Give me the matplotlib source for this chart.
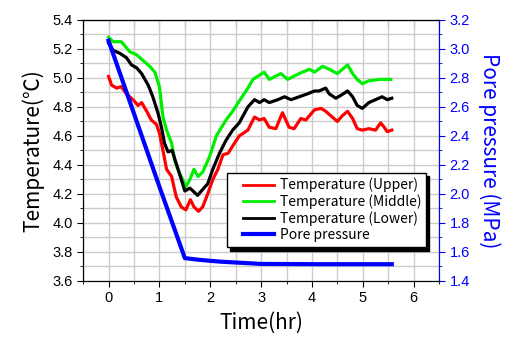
import matplotlib.pyplot as plt
from matplotlib.ticker import MultipleLocator

# data
t_upper = [0, 0.06, 0.16, 0.25, 0.35, 0.48, 0.58, 0.65, 0.75, 0.84, 0.94, 1.0, 1.07, 1.14, 1.24, 1.33,
           1.43, 1.52, 1.61, 1.68, 1.77, 1.85, 1.95, 2.05, 2.15, 2.25, 2.35, 2.44, 2.57, 2.74, 2.87,
           2.97, 3.06, 3.16, 3.29, 3.42, 3.55, 3.65, 3.78, 3.88, 4.05, 4.18, 4.27, 4.4, 4.5, 4.6,
           4.7, 4.8, 4.89, 4.99, 5.12, 5.25, 5.35, 5.42, 5.48, 5.57]
temp_upper = [5.01, 4.95, 4.93, 4.94, 4.89, 4.85, 4.81, 4.83, 4.77, 4.71, 4.68, 4.62, 4.50, 4.37, 4.32, 4.18,
              4.11, 4.09, 4.16, 4.11, 4.08, 4.11, 4.20, 4.30, 4.37, 4.47, 4.48, 4.53, 4.60, 4.64, 4.73,
              4.71, 4.72, 4.66, 4.65, 4.76, 4.66, 4.65, 4.72, 4.71, 4.78, 4.79, 4.77, 4.73, 4.70, 4.74,
              4.77, 4.72, 4.65, 4.64, 4.65, 4.64, 4.69, 4.66, 4.63, 4.64]

t_middle = [0, 0.09, 0.25, 0.42, 0.55, 0.71, 0.81, 0.91, 1.0, 1.07, 1.14, 1.24, 1.3, 1.4, 1.52, 1.6,
            1.68, 1.76, 1.85, 1.99, 2.12, 2.31, 2.44, 2.57, 2.74, 2.84, 2.93, 3.06, 3.16, 3.39, 3.52,
            3.75, 3.95, 4.05, 4.21, 4.34, 4.5, 4.7, 4.8, 4.89, 4.99, 5.12, 5.32, 5.55]
temp_middle = [5.28, 5.25, 5.25, 5.18, 5.16, 5.11, 5.08, 5.04, 4.94, 4.73, 4.64, 4.55, 4.43, 4.34, 4.25, 4.30,
               4.37, 4.32, 4.35, 4.46, 4.60, 4.71, 4.77, 4.84, 4.93, 4.99, 5.01, 5.04, 4.99, 5.03, 4.99,
               5.03, 5.06, 5.04, 5.08, 5.06, 5.03, 5.09, 5.03, 4.99, 4.96, 4.98, 4.99, 4.99]

t_lower = [0, 0.09, 0.22, 0.35, 0.45, 0.55, 0.65, 0.78, 0.87, 0.97, 1.04, 1.1, 1.17, 1.25, 1.33, 1.43,
           1.5, 1.6, 1.66, 1.75, 1.85, 1.95, 2.05, 2.18, 2.31, 2.44, 2.57, 2.74, 2.87, 2.97, 3.06,
           3.16, 3.33, 3.46, 3.59, 3.75, 3.91, 4.05, 4.14, 4.27, 4.34, 4.47, 4.57, 4.7, 4.8, 4.89,
           4.99, 5.12, 5.25, 5.38, 5.48, 5.57]
temp_lower = [5.24, 5.19, 5.17, 5.14, 5.09, 5.07, 5.03, 4.95, 4.87, 4.76, 4.66, 4.55, 4.49, 4.50, 4.41, 4.30,
              4.22, 4.24, 4.22, 4.19, 4.23, 4.27, 4.37, 4.48, 4.57, 4.64, 4.69, 4.80, 4.85, 4.83, 4.85,
              4.83, 4.85, 4.87, 4.85, 4.87, 4.89, 4.91, 4.91, 4.93, 4.89, 4.86, 4.88, 4.91, 4.87, 4.81,
              4.79, 4.83, 4.85, 4.87, 4.85, 4.86]

t_pore = [0, 1.0, 1.5, 1.79, 2.18, 3.0, 4.14, 5.57]
pore_pressure = [3.057, 2.05, 1.557, 1.545, 1.533, 1.517, 1.515, 1.515]

label_font = ['Noto Sans CJK JP', 'DejaVu Sans']
plt.rcParams['font.family'] = ['Liberation Sans', 'DejaVu Sans']

fig = plt.figure(figsize=(5.07, 3.38), dpi=100)
ax = fig.add_axes([0.164, 0.169, 0.702, 0.772])
ax2 = ax.twinx()

l1, = ax.plot(t_upper, temp_upper, color='red', lw=2.3, label='Temperature (Upper)')
l2, = ax.plot(t_middle, temp_middle, color='#00ee00', lw=2.3, label='Temperature (Middle)')
l3, = ax.plot(t_lower, temp_lower, color='black', lw=2.3, label='Temperature (Lower)')
l4, = ax2.plot(t_pore, pore_pressure, color='blue', lw=3, label='Pore pressure')

ax.set_xlim(-0.5, 6.5)
ax.set_ylim(3.6, 5.4)
ax2.set_ylim(1.4, 3.2)

ax.xaxis.set_major_locator(MultipleLocator(1))
ax.xaxis.set_minor_locator(MultipleLocator(0.5))
ax.yaxis.set_major_locator(MultipleLocator(0.2))
ax.yaxis.set_minor_locator(MultipleLocator(0.1))
ax2.yaxis.set_major_locator(MultipleLocator(0.2))
ax2.yaxis.set_minor_locator(MultipleLocator(0.1))
ax.yaxis.set_major_formatter(plt.FormatStrFormatter('%.1f'))
ax2.yaxis.set_major_formatter(plt.FormatStrFormatter('%.1f'))

ax.grid(True, which='both', color='#cccccc', lw=1)
ax.set_axisbelow(True)

ax.tick_params(axis='both', which='both', direction='out', labelsize=10.5, top=False)
ax.tick_params(which='major', length=4)
ax.tick_params(which='minor', length=2.5)
sec = ax.secondary_xaxis('top')
sec.xaxis.set_major_locator(MultipleLocator(0.5))
sec.tick_params(direction='in', length=4, labeltop=False)

ax2.spines['right'].set_color('blue')
ax2.tick_params(axis='y', which='both', colors='blue', labelsize=10.5)
ax2.tick_params(which='major', length=4)
ax2.tick_params(which='minor', length=2.5)

ax.set_xlabel('Time(hr)', fontsize=15, family=label_font, labelpad=5)
ax.set_ylabel('Temperature(℃)', fontsize=15, family=label_font, labelpad=6)
ax2.set_ylabel('Pore pressure (MPa)', fontsize=15, family=label_font, color='blue',
               rotation=270, labelpad=22)

leg = ax2.legend(handles=[l1, l2, l3, l4], loc='upper left',
                 bbox_to_anchor=(0.404, 0.13, 0.559, 0.284), mode='expand', alignment='right',
                 borderaxespad=0, fancybox=False, edgecolor='black', framealpha=1,
                 shadow={'color': 'black', 'alpha': 1, 'ox': 2.5, 'oy': -2.5},
                 prop={'family': label_font, 'size': 10}, handlelength=2.2,
                 handletextpad=0.4, labelspacing=0.15, borderpad=0.35)
leg._legend_handle_box.mode = 'fixed'
leg.get_frame().set_linewidth(1)
leg.legend_handles[0].set_linewidth(2)
leg.legend_handles[1].set_linewidth(2)
leg.legend_handles[2].set_linewidth(2)
leg.legend_handles[3].set_linewidth(3)

fig.savefig('out.png', dpi=100)
